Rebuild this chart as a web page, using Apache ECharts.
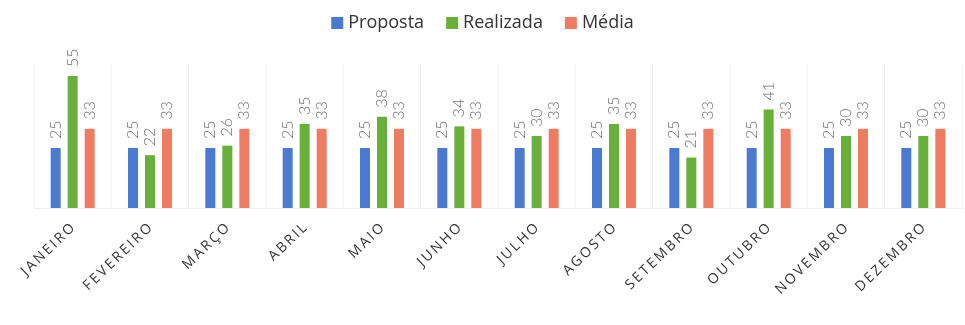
<!DOCTYPE html>
<html><head><meta charset="utf-8">
<script src="https://cdn.jsdelivr.net/npm/echarts@6/dist/echarts.min.js"></script>
<style>html,body{margin:0;padding:0;background:#fff}#c{width:965px;height:325px}</style>
</head><body><div id="c"></div>
<script>
const categories = ['JANEIRO','FEVEREIRO','MARÇO','ABRIL','MAIO','JUNHO','JULHO','AGOSTO','SETEMBRO','OUTUBRO','NOVEMBRO','DEZEMBRO'];
const proposta = [25,25,25,25,25,25,25,25,25,25,25,25];
const realizada = [55,22,26,35,38,34,30,35,21,41,30,30];
const media = [33,33,33,33,33,33,33,33,33,33,33,33];

const chart = echarts.init(document.getElementById('c'));
const lbl = {show:true, position:'top', rotate:90, align:'left', verticalAlign:'middle', distance:9,
  color:'#6e6e6e', fontSize:16, fontWeight:300, fontFamily:'Lato'};
function s(name, data, color){
  return {name, type:'bar', data, barWidth:10, barGap:'70%', itemStyle:{color}, label:lbl};
}
chart.setOption({
  animation:false,
  textStyle:{fontFamily:'Open Sans'},
  legend:{top:9, left:'center', itemWidth:12, itemHeight:12, itemGap:22, icon:'rect',
    textStyle:{fontSize:18, color:'#333', fontFamily:'Open Sans'}},
  grid:{left:34, right:3, top:64, bottom:117},
  xAxis:{type:'category', data:categories,
    axisLine:{show:true, lineStyle:{color:'#eeeeee'}}, axisTick:{show:false},
    splitLine:{show:true, lineStyle:{color:'#f2f2f2'}},
    axisLabel:{rotate:44, color:'#333', fontSize:14, margin:18, fontFamily:'Open Sans', interval:0,
      formatter: v => v.split('').join('\u2009')}},
  yAxis:{type:'value', min:0, max:60, show:false, splitLine:{show:false}},
  series:[s('Proposta', proposta, '#4a7bd0'), s('Realizada', realizada, '#68b03a'), s('Média', media, '#ef7b60')]
});
</script></body></html>
